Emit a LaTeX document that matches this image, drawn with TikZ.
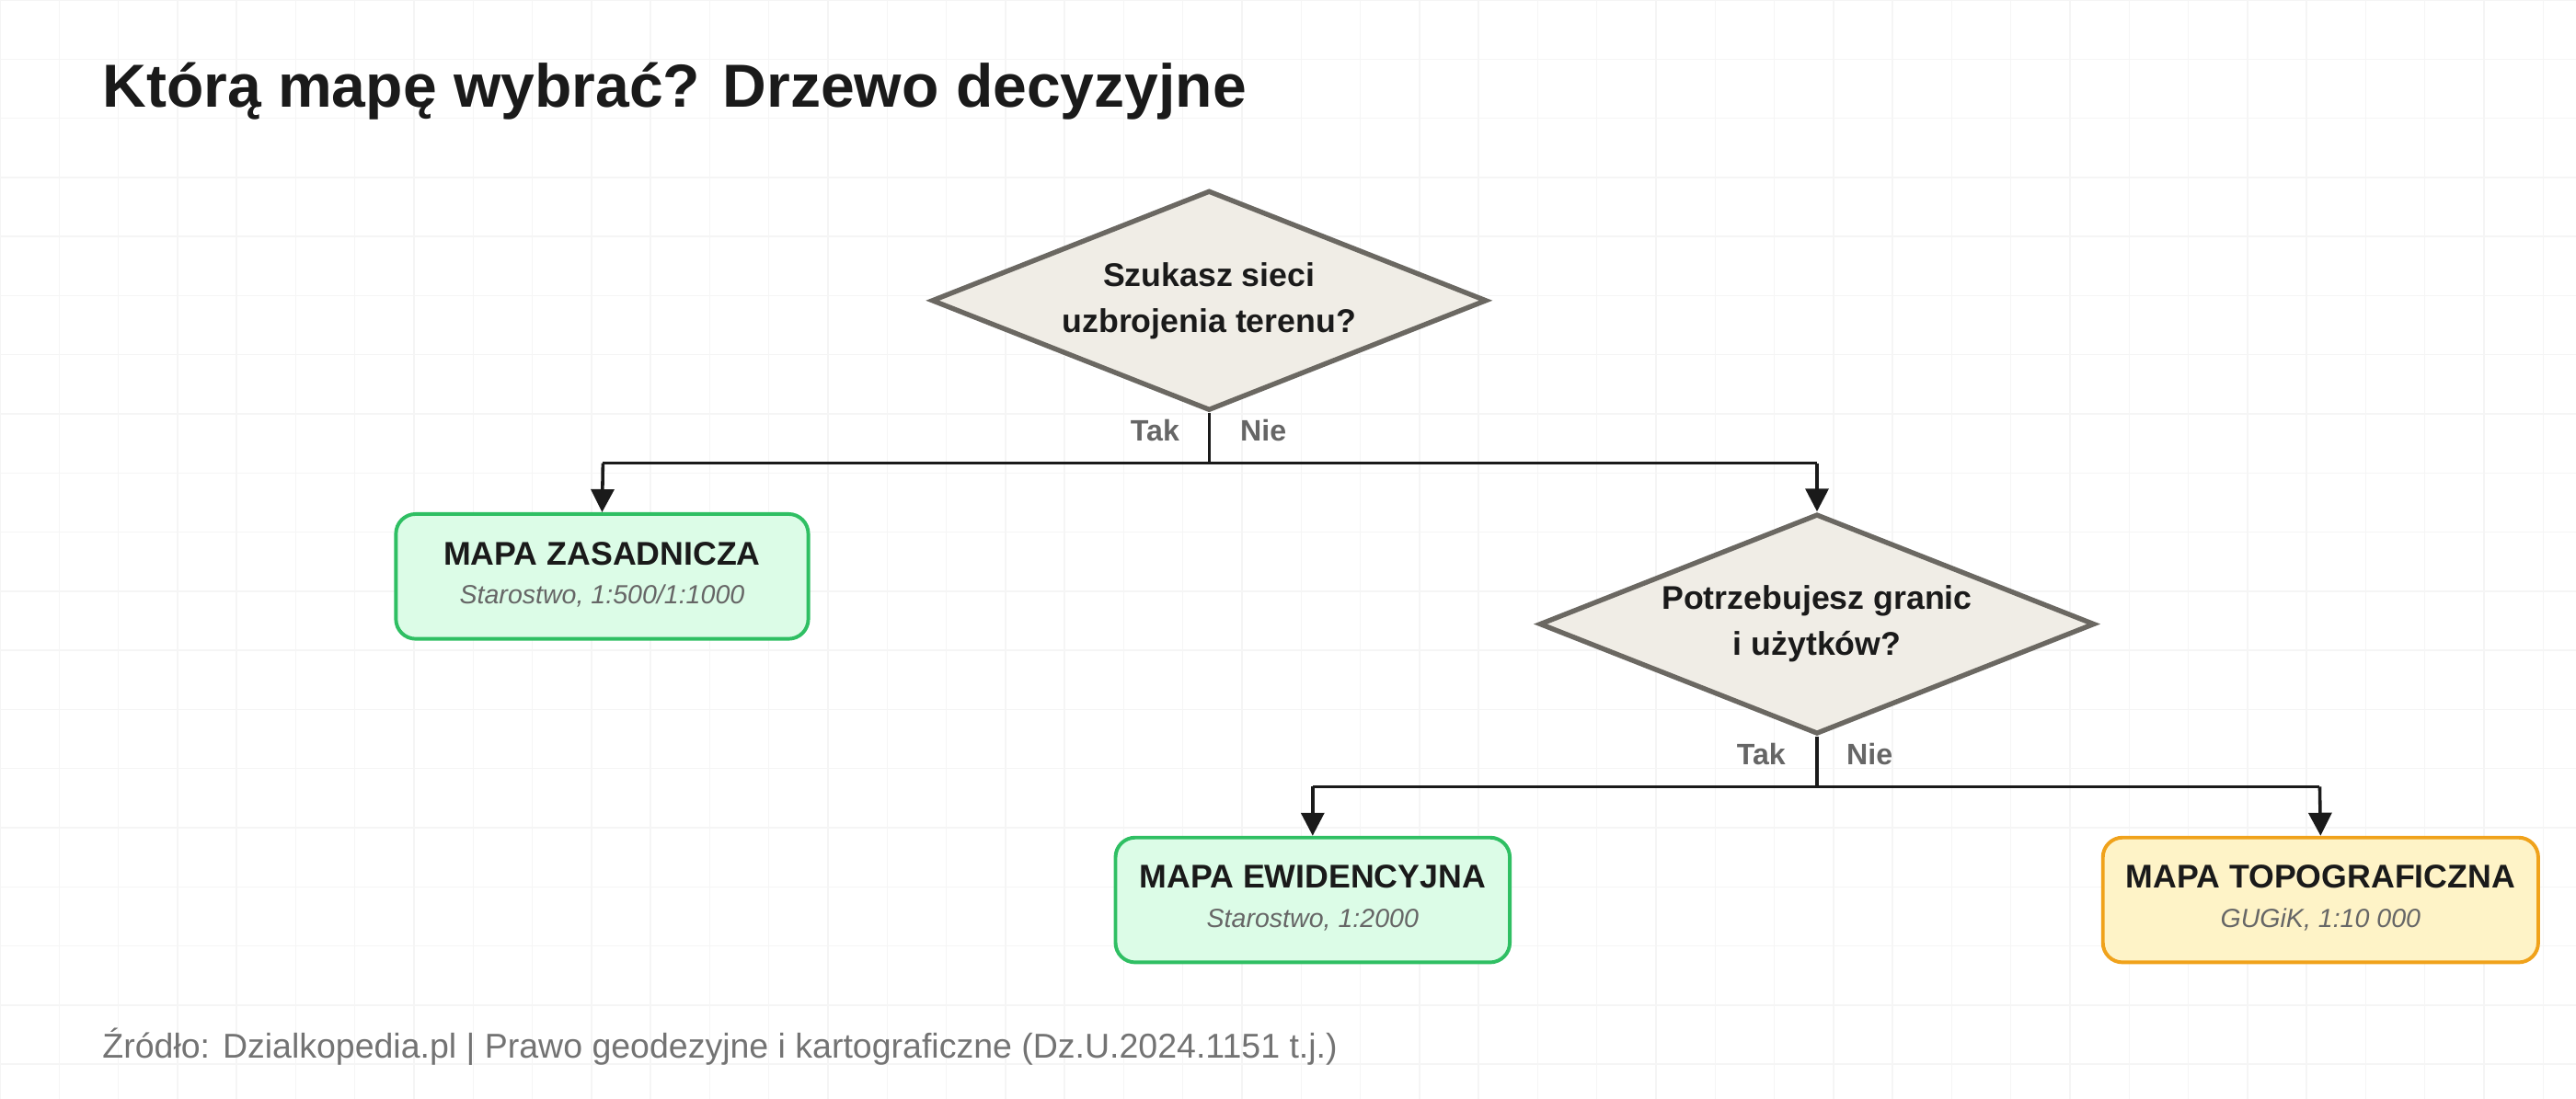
\documentclass[tikz,border=0pt]{standalone}
\usepackage{fontspec}
\setmainfont{Liberation Sans}
\usetikzlibrary{shapes.geometric,arrows.meta}
\definecolor{dfill}{HTML}{F0EDE6}\definecolor{dline}{HTML}{6B6862}
\definecolor{gfill}{HTML}{DCFCE7}\definecolor{gline}{HTML}{2FBF63}
\definecolor{yfill}{HTML}{FEF3C7}\definecolor{yline}{HTML}{F0A21B}
\definecolor{txt}{HTML}{1A1A1A}\definecolor{lab}{HTML}{666666}
\begin{document}
\begin{tikzpicture}[x=0.5pt,y=-0.5pt,
 dec/.style={diamond,draw=dline,fill=dfill,line width=1.5pt,minimum width=338pt*0.5,minimum height=134pt*0.5,inner sep=0pt,aspect=2.5,align=center,font=\bfseries\fontsize{10}{14}\selectfont,text=txt},
 res/.style={draw,rounded corners=6pt,line width=1.1pt,align=center,inner sep=0pt},
 conn/.style={line width=1pt,draw=txt},
 arr/.style={conn,-{Triangle[length=7pt,width=7pt]}},
 lb/.style={font=\bfseries\fontsize{9}{11}\selectfont,text=lab}]
\fill[white] (0,0) rectangle (1568,669);
\useasboundingbox (0,0) rectangle (1568,669);
\foreach \i in {0,36,...,1568} \draw[black!4,line width=0.4pt] (\i,0)--(\i,669);
\foreach \j in {0,36,...,669} \draw[black!4,line width=0.4pt] (0,\j)--(1568,\j);
\node[anchor=base west,inner sep=0pt,font=\bfseries\fontsize{18.5}{22}\selectfont,text=txt] (title) at (62,65) {Którą mapę wybrać? Drzewo decyzyjne};
\node[dec] (d1) at (736,183) {Szukasz sieci\\uzbrojenia terenu?};
\node[dec] (d2) at (1106,380) {Potrzebujesz granic\\i użytków?};
\node[res,draw=gline,fill=gfill,minimum width=125.5pt,minimum height=38pt] (b1) at (366.5,351) {};
\node[res,draw=gline,fill=gfill,minimum width=120pt,minimum height=38pt] (b2) at (799,548) {};
\node[res,draw=yline,fill=yfill,minimum width=132.5pt,minimum height=38pt] (b3) at (1412.5,548) {};
\foreach \b/\t/\s in {b1/MAPA ZASADNICZA/{Starostwo, 1:500/1:1000},b2/MAPA EWIDENCYJNA/{Starostwo, 1:2000},b3/MAPA TOPOGRAFICZNA/{GUGiK, 1:10 000}}{
 \node[font=\bfseries\fontsize{10}{12}\selectfont,text=txt] at ([yshift=7pt]\b.center) {\t};
 \node[font=\itshape\fontsize{8}{10}\selectfont,text=lab] at ([yshift=-6pt]\b.center) {\s};}
\coordinate (j1) at (736,282); \coordinate (l1) at (367,282); \coordinate (r1) at (1106,282);
\draw[conn] (d1.south) -- (j1); \draw[conn] (l1) -- (r1);
\draw[arr] (l1) -- (b1.north); \draw[arr] (r1) -- (d2.north);
\node[lb] at (703,262) {Tak}; \node[lb] at (769,262) {Nie};
\coordinate (j2) at (1106,479); \coordinate (l2) at (799,479); \coordinate (r2) at (1412,479);
\draw[conn] (d2.south) -- (j2); \draw[conn] (l2) -- (r2);
\draw[arr] (l2) -- (b2.north); \draw[arr] (r2) -- (b3.north);
\node[lb] at (1072,459) {Tak}; \node[lb] at (1138,459) {Nie};
\node[anchor=base west,inner sep=0pt,font=\fontsize{10.5}{12}\selectfont,text=black!55] (src) at (62,644) {Źródło: Dzialkopedia.pl | Prawo geodezyjne i kartograficzne (Dz.U.2024.1151 t.j.)};
\end{tikzpicture}
\end{document}
